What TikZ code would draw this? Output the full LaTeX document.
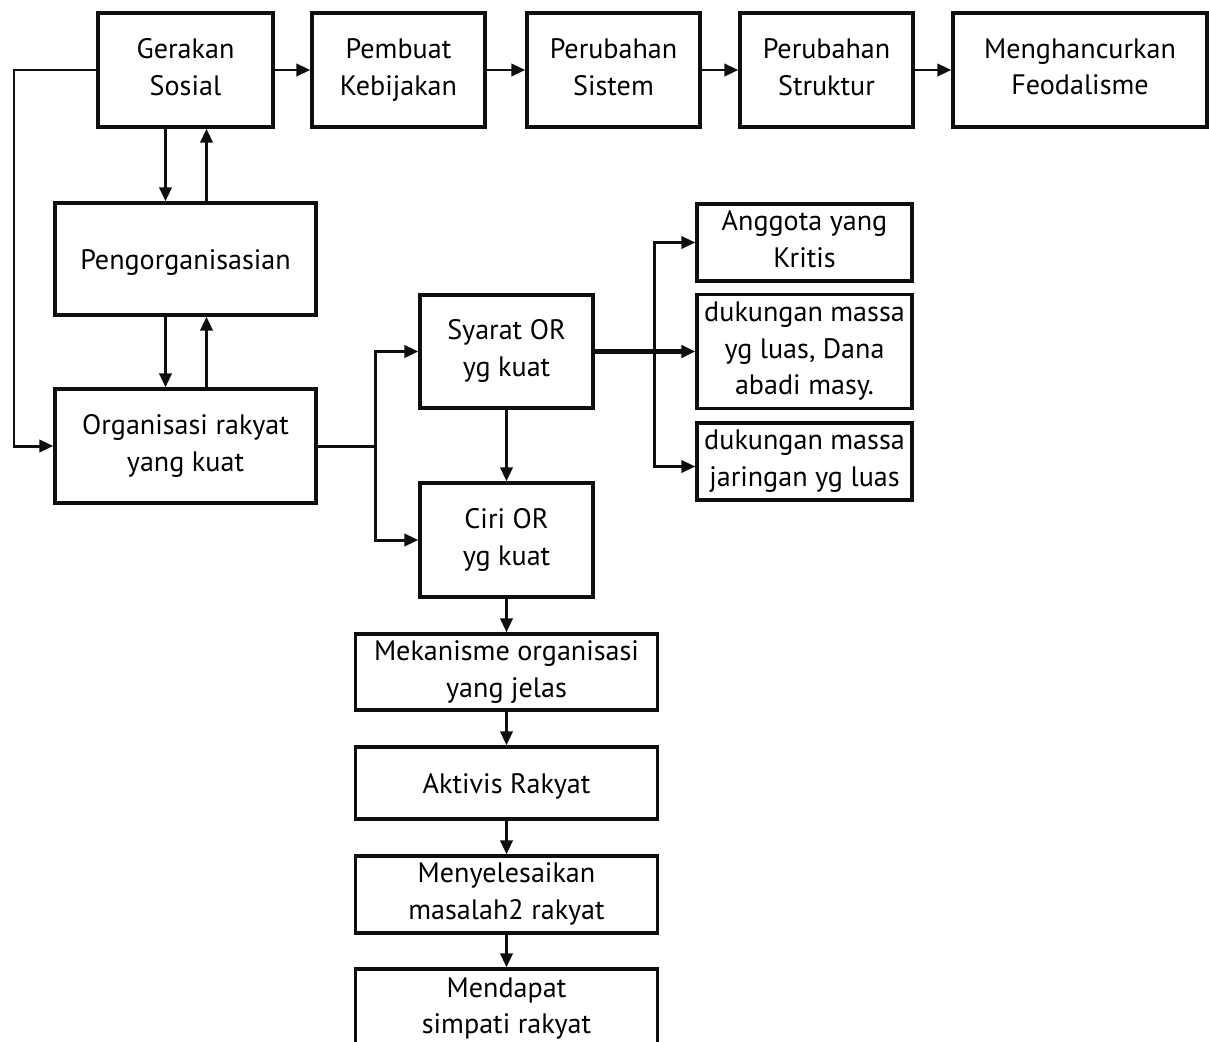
\documentclass[tikz,border=0pt]{standalone}
\usepackage{fontspec}
\setmainfont{PT Sans}
\usetikzlibrary{arrows.meta, positioning, calc}
\definecolor{mydark}{RGB}{15,15,15}
\tikzset{
  block/.style={rectangle, draw=mydark, fill=white, align=center,
    inner sep=2pt, line width=1.9pt, font=\fontsize{16}{21}\selectfont,
    execute at begin node=\rule{0pt}{15.3pt},
    execute at end node=\rule[-3.8pt]{0pt}{0pt}},
  arrow/.style={-{Triangle[length=8pt,width=7pt]}, line width=1.7pt, color=mydark},
  line/.style={line width=1.7pt, color=mydark}
}

\begin{document}
\begin{tikzpicture}[x=0.02cm, y=-0.02cm]
  \useasboundingbox (0,0) rectangle (1209,1041);

  % top row
  \node[block, minimum width=3.5cm, minimum height=2.28cm] (gerakan) at (185.5,70) {Gerakan\\Sosial};
  \node[block, minimum width=3.46cm, minimum height=2.28cm] (pembuat) at (398.5,70) {Pembuat\\Kebijakan};
  \node[block, minimum width=3.46cm, minimum height=2.28cm] (sistem) at (613.5,70) {Perubahan\\Sistem};
  \node[block, minimum width=3.46cm, minimum height=2.28cm] (struktur) at (826.5,70) {Perubahan\\Struktur};
  \node[block, minimum width=5.08cm, minimum height=2.28cm] (feodal) at (1080,70) {Menghancurkan\\Feodalisme};

  % left column
  \node[block, minimum width=5.22cm, minimum height=2.24cm] (pengorg) at (185.5,259) {Pengorganisasian};
  \node[block, minimum width=5.22cm, minimum height=2.28cm] (orgrakyat) at (185.5,446) {Organisasi rakyat\\yang kuat};

  % middle column
  \node[block, minimum width=3.46cm, minimum height=2.26cm] (syarat) at (506.5,351.5) {Syarat OR\\yg kuat};
  \node[block, minimum width=3.46cm, minimum height=2.28cm] (ciri) at (506.5,540) {Ciri OR\\yg kuat};
  \node[block, minimum width=6.04cm, minimum height=1.52cm] (mekanisme) at (506.5,672) {Mekanisme organisasi\\yang jelas};
  \node[block, minimum width=6.04cm, minimum height=1.44cm] (aktivis) at (506.5,783) {Aktivis Rakyat};
  \node[block, minimum width=6.04cm, minimum height=1.54cm] (selesai) at (506.5,894.5) {Menyelesaikan\\masalah2 rakyat};
  \node[block, minimum width=6.04cm, minimum height=1.6cm] (mendapat) at (506.5,1009) {Mendapat\\simpati rakyat};

  % right column
  \node[block, minimum width=4.3cm, minimum height=1.54cm] (anggota) at (804.5,242.5) {Anggota yang\\Kritis};
  \node[block, minimum width=4.3cm, minimum height=2.28cm] (dukung1) at (804.5,351.5) {dukungan massa\\yg luas, Dana\\abadi masy.};
  \node[block, minimum width=4.3cm, minimum height=1.54cm] (dukung2) at (804.5,461.5) {dukungan massa\\jaringan yg luas};

  % connectors
  \foreach \a/\b in {gerakan/pembuat, pembuat/sistem, sistem/struktur, struktur/feodal}
    \draw[arrow] (\a) -- (\b);

  \coordinate (looptop) at (14,70);
  \draw[arrow] (gerakan.west) -- (looptop) |- (orgrakyat.west);

  \draw[arrow] ($(gerakan.south)+(-20,0)$) -- ($(pengorg.north)+(-20,0)$);
  \draw[arrow] ($(pengorg.north)+(21,0)$) -- ($(gerakan.south)+(21,0)$);
  \draw[arrow] ($(pengorg.south)+(-20,0)$) -- ($(orgrakyat.north)+(-20,0)$);
  \draw[arrow] ($(orgrakyat.north)+(21,0)$) -- ($(pengorg.south)+(21,0)$);

  \coordinate (fork) at (375,446);
  \draw[line] (orgrakyat.east) -- (fork);
  \draw[arrow] (fork) |- (syarat.west);
  \draw[arrow] (fork) |- (ciri.west);
  \draw[arrow] (syarat) -- (ciri);

  \coordinate (fork2) at (654,351.5);
  \draw[arrow, line width=2.4pt] (syarat.east) -- (dukung1.west);
  \draw[arrow] (fork2) |- (anggota.west);
  \draw[arrow] (fork2) |- ($(dukung2.west)+(0,5)$);

  \foreach \a/\b in {ciri/mekanisme, mekanisme/aktivis, aktivis/selesai, selesai/mendapat}
    \draw[arrow] (\a) -- (\b);
\end{tikzpicture}
\end{document}
